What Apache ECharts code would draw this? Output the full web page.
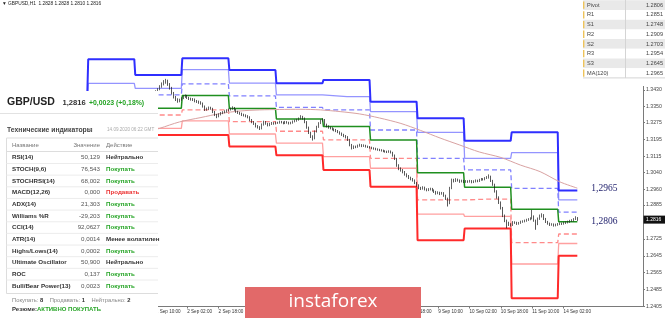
<!DOCTYPE html>
<html><head><meta charset="utf-8">
<script src="https://cdn.jsdelivr.net/npm/echarts@6/dist/echarts.min.js"></script>
<style>html,body{margin:0;padding:0;background:#fff}#c{width:665px;height:318px}</style>
</head><body><div id="c"></div>
<script>
// ---------- DATA ----------
const dayLabels = ['27 Aug','28 Aug','31 Aug','1 Sep','2 Sep','3 Sep','4 Sep','7 Sep','8 Sep','9 Sep','10 Sep','11 Sep','14 Sep','15 Sep'];
const firstBarTime = '1 Sep 07:00';
// H1 candles [open, close, low, high] from 1 Sep 07:00 to 14 Sep 09:00
const candles = [
[1.3392,1.3398,1.3386,1.3404],[1.3398,1.3405,1.3393,1.3411],[1.3405,1.3410,1.3399,1.3417],[1.3410,1.3421,1.3406,1.3428],
[1.3421,1.3432,1.3415,1.3438],[1.3432,1.3446,1.3428,1.3452],[1.3446,1.3458,1.3440,1.3465],[1.3458,1.3468,1.3451,1.3476],
[1.3468,1.3471,1.3459,1.3482],[1.3471,1.3455,1.3449,1.3478],[1.3455,1.3438,1.3431,1.3462],[1.3438,1.3414,1.3408,1.3444],
[1.3414,1.3396,1.3389,1.3420],[1.3396,1.3384,1.3377,1.3401],[1.3384,1.3376,1.3369,1.3390],[1.3376,1.3382,1.3371,1.3388],
[1.3382,1.3390,1.3378,1.3395],[1.3390,1.3398,1.3386,1.3404],[1.3398,1.3401,1.3392,1.3408],[1.3401,1.3392,1.3387,1.3406],
[1.3392,1.3388,1.3382,1.3397],[1.3388,1.3385,1.3379,1.3393],[1.3385,1.3383,1.3377,1.3391],[1.3383,1.3377,1.3371,1.3389],
[1.3377,1.3374,1.3368,1.3382],[1.3374,1.3371,1.3364,1.3379],[1.3371,1.3366,1.3360,1.3376],[1.3366,1.3352,1.3346,1.3370],
[1.3352,1.3336,1.3330,1.3356],[1.3336,1.3340,1.3331,1.3346],[1.3340,1.3346,1.3335,1.3351],[1.3346,1.3341,1.3336,1.3350],
[1.3341,1.3326,1.3320,1.3345],[1.3326,1.3312,1.3306,1.3330],[1.3312,1.3304,1.3296,1.3316],[1.3304,1.3314,1.3300,1.3319],
[1.3314,1.3320,1.3309,1.3325],[1.3320,1.3324,1.3315,1.3329],[1.3324,1.3328,1.3319,1.3333],[1.3328,1.3333,1.3323,1.3338],
[1.3333,1.3337,1.3328,1.3342],[1.3337,1.3341,1.3332,1.3346],[1.3341,1.3345,1.3336,1.3352],[1.3345,1.3336,1.3331,1.3349],
[1.3336,1.3327,1.3321,1.3340],[1.3327,1.3322,1.3316,1.3331],[1.3322,1.3318,1.3312,1.3326],[1.3318,1.3312,1.3306,1.3322],
[1.3312,1.3310,1.3304,1.3317],[1.3310,1.3306,1.3300,1.3314],[1.3306,1.3301,1.3295,1.3310],[1.3301,1.3288,1.3282,1.3305],
[1.3288,1.3278,1.3272,1.3292],[1.3278,1.3270,1.3264,1.3282],[1.3270,1.3258,1.3252,1.3274],[1.3258,1.3254,1.3247,1.3263],
[1.3254,1.3247,1.3240,1.3258],[1.3247,1.3266,1.3243,1.3271],[1.3266,1.3278,1.3261,1.3284],[1.3278,1.3270,1.3265,1.3282],
[1.3270,1.3263,1.3257,1.3274],[1.3263,1.3269,1.3258,1.3274],[1.3269,1.3273,1.3264,1.3278],[1.3273,1.3270,1.3265,1.3277],
[1.3270,1.3275,1.3266,1.3280],[1.3275,1.3274,1.3269,1.3279],[1.3274,1.3279,1.3270,1.3284],[1.3279,1.3276,1.3271,1.3283],
[1.3276,1.3272,1.3267,1.3280],[1.3272,1.3278,1.3268,1.3283],[1.3278,1.3275,1.3270,1.3282],[1.3275,1.3271,1.3266,1.3279],
[1.3271,1.3274,1.3267,1.3279],[1.3274,1.3280,1.3270,1.3285],[1.3280,1.3284,1.3276,1.3289],[1.3284,1.3288,1.3279,1.3293],
[1.3288,1.3294,1.3284,1.3299],[1.3294,1.3302,1.3290,1.3310],[1.3302,1.3296,1.3289,1.3307],[1.3296,1.3278,1.3272,1.3299],
[1.3278,1.3252,1.3246,1.3282],[1.3252,1.3228,1.3221,1.3256],[1.3228,1.3210,1.3202,1.3232],[1.3210,1.3200,1.3190,1.3215],
[1.3200,1.3232,1.3196,1.3238],[1.3232,1.3255,1.3228,1.3260],[1.3255,1.3272,1.3250,1.3277],[1.3272,1.3285,1.3268,1.3290],
[1.3285,1.3289,1.3280,1.3296],[1.3289,1.3266,1.3260,1.3292],[1.3266,1.3258,1.3252,1.3270],[1.3258,1.3252,1.3246,1.3262],
[1.3252,1.3249,1.3243,1.3256],[1.3249,1.3244,1.3238,1.3253],[1.3244,1.3240,1.3234,1.3248],[1.3240,1.3236,1.3230,1.3245],
[1.3236,1.3230,1.3225,1.3240],[1.3230,1.3224,1.3218,1.3234],[1.3224,1.3218,1.3212,1.3228],[1.3218,1.3212,1.3206,1.3222],
[1.3212,1.3207,1.3200,1.3216],[1.3207,1.3194,1.3188,1.3211],[1.3194,1.3170,1.3163,1.3198],[1.3170,1.3155,1.3148,1.3174],
[1.3155,1.3162,1.3150,1.3167],[1.3162,1.3160,1.3154,1.3166],[1.3160,1.3166,1.3156,1.3171],[1.3166,1.3169,1.3161,1.3175],
[1.3169,1.3164,1.3159,1.3173],[1.3164,1.3167,1.3160,1.3172],[1.3167,1.3162,1.3157,1.3170],[1.3162,1.3160,1.3155,1.3166],
[1.3160,1.3157,1.3152,1.3164],[1.3157,1.3154,1.3149,1.3161],[1.3154,1.3152,1.3147,1.3158],[1.3152,1.3149,1.3144,1.3156],
[1.3149,1.3147,1.3142,1.3153],[1.3147,1.3145,1.3140,1.3151],[1.3145,1.3143,1.3138,1.3149],[1.3143,1.3140,1.3135,1.3147],
[1.3140,1.3138,1.3133,1.3144],[1.3138,1.3137,1.3131,1.3142],[1.3137,1.3139,1.3132,1.3144],[1.3139,1.3134,1.3129,1.3143],
[1.3134,1.3120,1.3114,1.3137],[1.3120,1.3104,1.3098,1.3124],[1.3104,1.3072,1.3066,1.3108],[1.3072,1.3058,1.3050,1.3078],
[1.3058,1.3050,1.3043,1.3063],[1.3050,1.3041,1.3035,1.3055],[1.3041,1.3030,1.3024,1.3046],[1.3030,1.3022,1.3016,1.3035],
[1.3022,1.3014,1.3008,1.3027],[1.3014,1.3008,1.3002,1.3019],[1.3008,1.3002,1.2996,1.3013],[1.3002,1.2990,1.2984,1.3006],
[1.2990,1.2978,1.2972,1.2994],[1.2978,1.2966,1.2960,1.2983],[1.2966,1.2962,1.2956,1.2971],[1.2962,1.2968,1.2958,1.2974],
[1.2968,1.2960,1.2954,1.2972],[1.2960,1.2956,1.2950,1.2964],[1.2956,1.2959,1.2951,1.2965],[1.2959,1.2962,1.2954,1.2967],
[1.2962,1.2955,1.2949,1.2966],[1.2955,1.2948,1.2942,1.2959],[1.2948,1.2940,1.2934,1.2952],[1.2940,1.2944,1.2936,1.2950],
[1.2944,1.2938,1.2932,1.2948],[1.2938,1.2942,1.2934,1.2947],[1.2942,1.2930,1.2924,1.2946],[1.2930,1.2916,1.2909,1.2934],
[1.2916,1.2893,1.2878,1.2920],[1.2893,1.2965,1.2889,1.2971],[1.2965,1.3004,1.2960,1.3010],[1.3004,1.2998,1.2992,1.3009],
[1.2998,1.3006,1.2994,1.3012],[1.3006,1.3002,1.2996,1.3010],[1.3002,1.2996,1.2990,1.3006],[1.2996,1.3000,1.2992,1.3005],
[1.3000,1.2994,1.2989,1.3004],[1.2994,1.2998,1.2990,1.3003],[1.2998,1.2995,1.2990,1.3002],[1.2995,1.2999,1.2991,1.3004],
[1.2999,1.2993,1.2988,1.3003],[1.2993,1.2997,1.2989,1.3002],[1.2997,1.3001,1.2992,1.3006],[1.3001,1.2998,1.2993,1.3005],
[1.2998,1.3004,1.2994,1.3009],[1.3004,1.3008,1.3000,1.3013],[1.3008,1.3006,1.3001,1.3012],[1.3006,1.3012,1.3002,1.3017],
[1.3012,1.3016,1.3008,1.3022],[1.3016,1.3020,1.3010,1.3030],[1.3020,1.3000,1.2994,1.3024],[1.3000,1.2982,1.2976,1.3004],
[1.2982,1.2950,1.2944,1.2986],[1.2950,1.2922,1.2915,1.2955],[1.2922,1.2898,1.2890,1.2926],[1.2898,1.2872,1.2864,1.2902],
[1.2872,1.2836,1.2828,1.2876],[1.2836,1.2812,1.2804,1.2840],[1.2812,1.2800,1.2775,1.2816],[1.2800,1.2794,1.2786,1.2806],
[1.2794,1.2790,1.2783,1.2799],[1.2790,1.2804,1.2786,1.2809],[1.2804,1.2802,1.2796,1.2808],[1.2802,1.2797,1.2791,1.2806],
[1.2797,1.2800,1.2792,1.2805],[1.2800,1.2806,1.2796,1.2811],[1.2806,1.2808,1.2801,1.2813],[1.2808,1.2811,1.2803,1.2816],
[1.2811,1.2815,1.2806,1.2820],[1.2815,1.2818,1.2810,1.2823],[1.2818,1.2822,1.2813,1.2827],[1.2822,1.2830,1.2817,1.2862],
[1.2830,1.2812,1.2806,1.2836],[1.2812,1.2796,1.2768,1.2816],[1.2796,1.2820,1.2790,1.2826],[1.2820,1.2832,1.2815,1.2840],
[1.2832,1.2838,1.2826,1.2846],[1.2838,1.2820,1.2814,1.2842],[1.2820,1.2806,1.2800,1.2824],[1.2806,1.2798,1.2792,1.2810],
[1.2798,1.2792,1.2786,1.2802],[1.2792,1.2794,1.2787,1.2799],[1.2794,1.2789,1.2783,1.2798],[1.2789,1.2792,1.2784,1.2797],
[1.2792,1.2795,1.2787,1.2800],[1.2795,1.2798,1.2790,1.2803],[1.2798,1.2796,1.2791,1.2802],[1.2796,1.2800,1.2792,1.2805],
[1.2800,1.2803,1.2795,1.2808],[1.2803,1.2806,1.2798,1.2811],[1.2806,1.2810,1.2801,1.2815],[1.2810,1.2812,1.2805,1.2818],
[1.2812,1.2818,1.2807,1.2823],[1.2818,1.2828,1.2814,1.2832],[1.2828,1.2816,1.2810,1.2828]
];
// Daily classic pivot levels (one value per trading day)
const pivotDays = ['28 Aug','31 Aug','1 Sep','2 Sep','3 Sep','4 Sep','7 Sep','8 Sep','9 Sep','10 Sep','11 Sep','14 Sep'];
const r3 = [1.3399,1.3575,1.3500,1.3579,1.3524,1.3461,1.3477,1.3374,1.3295,1.3189,1.3229,1.2954];
const r2 = [1.3332,1.3461,1.3437,1.3526,1.3462,1.3406,1.3398,1.3327,1.3229,1.3106,1.3133,1.2909];
const r1 = [1.3269,1.3404,1.3406,1.3458,1.3401,1.3347,1.3335,1.3240,1.3106,1.3051,1.2964,1.2851];
const pv = [1.3202,1.3300,1.3343,1.3403,1.3342,1.3292,1.3256,1.3193,1.3038,1.2969,1.2865,1.2806];
const s1 = [1.3139,1.3243,1.3311,1.3335,1.3280,1.3234,1.3193,1.3106,1.2909,1.2913,1.2707,1.2748];
const s2 = [1.3072,1.3139,1.3248,1.3283,1.3221,1.3178,1.3114,1.3059,1.2842,1.2831,1.2606,1.2703];
const s3 = [1.3009,1.3082,1.3216,1.3216,1.3162,1.3120,1.3051,1.2972,1.2719,1.2774,1.2444,1.2645];
// MA(120)
const maTimes = ['1 Sep 07:00','1 Sep 12:00','1 Sep 22:00','2 Sep 09:00','2 Sep 19:00','3 Sep 05:00','3 Sep 15:00','4 Sep 01:00','4 Sep 12:00','4 Sep 22:00','7 Sep 08:00','7 Sep 18:00','8 Sep 04:00','8 Sep 15:00','9 Sep 01:00','9 Sep 11:00','9 Sep 21:00','10 Sep 07:00','10 Sep 18:00','11 Sep 04:00','11 Sep 14:00','14 Sep 00:00','14 Sep 09:00'];
const maValues = [1.3235,1.3248,1.3278,1.3299,1.3318,1.3330,1.3335,1.3337,1.3338,1.3335,1.3327,1.3316,1.3297,1.3271,1.3238,1.3202,1.3169,1.3136,1.3110,1.3074,1.3043,1.2995,1.2965];
// Price axis tick labels
const yTicks = [1.2405,1.2485,1.2565,1.2645,1.2725,1.2805,1.2885,1.2960,1.3040,1.3115,1.3195,1.3275,1.3350,1.3430];
// Technical indicators panel
const indNames = ['RSI(14)','STOCH(9,6)','STOCHRSI(14)','MACD(12,26)','ADX(14)','Williams %R','CCI(14)','ATR(14)','Highs/Lows(14)','Ultimate Oscillator','ROC','Bull/Bear Power(13)'];
const indValues = ['50,129','76,543','68,002','0,000','21,303','-29,203','92,0627','0,0014','0,0002','50,900','0,137','0,0023'];
const indActions = ['Нейтрально','Покупать','Покупать','Продавать','Покупать','Покупать','Покупать','Менее волатилен','Покупать','Нейтрально','Покупать','Покупать'];
const summaryCounts = [8, 1, 2];

// ---------- BUILD ----------
const categories = [];
dayLabels.forEach((d, k) => {
  for (let h = (k === 0 ? 3 : 0); h < 24 && categories.length < 328; h++) {
    categories.push(d + ' ' + String(h).padStart(2, '0') + ':00');
  }
});
const firstBar = categories.indexOf(firstBarTime);
const lastBar = firstBar + candles.length - 1;
const candleData = new Array(firstBar).fill('-').concat(candles);
const dayStart = pivotDays.map(d => categories.indexOf(d + ' 00:00'));
function stepData(levels) {
  const pts = [];
  levels.forEach((v, d) => {
    const s = dayStart[d];
    const e = d + 1 < dayStart.length ? dayStart[d + 1] - 1 : lastBar;
    pts.push([s, v], [e, v]);
  });
  return pts;
}
const labelAnchor = categories.indexOf('1 Sep 10:00');
const showLabel = (i) => i <= lastBar && (i - labelAnchor) % 16 === 0;
const comma = v => v.toFixed(4).replace('.', ',');
const last = a => a[a.length - 1];

function lvl(data, color, width, dashed, extra) {
  return Object.assign({
    type: 'line', data: stepData(data), step: 'middle', symbol: 'none', silent: true, z: 3,
    lineStyle: { color: color, width: width, type: dashed ? [5, 3] : 'solid' }
  }, extra || {});
}
const endLbl = { show: true, formatter: p => comma(p.value[1]), color: '#22226e', fontFamily: 'Liberation Serif', fontSize: 9.5, distance: 14 };

const chart = echarts.init(document.getElementById('c'), null, { renderer: 'canvas' });
chart.setOption({
  animation: false,
  backgroundColor: '#ffffff',
  grid: { left: 0, right: 22, top: 0, bottom: 11.5 },
  xAxis: {
    type: 'category', data: categories, boundaryGap: true,
    axisLine: { lineStyle: { color: '#7a7a7a', width: 1 } },
    axisTick: { show: true, interval: showLabel, alignWithLabel: true, length: 2, lineStyle: { color: '#7a7a7a' } },
    axisLabel: { interval: showLabel, align: 'left', margin: 3, fontSize: 4.6, color: '#333', fontFamily: 'Liberation Sans' },
    splitLine: { show: false }
  },
  yAxis: {
    type: 'value', position: 'right', min: 1.2405, max: 1.3855, splitLine: { show: false },
    axisLine: { show: true, lineStyle: { color: '#7a7a7a' } },
    axisTick: { show: true, customValues: yTicks, length: 2, lineStyle: { color: '#7a7a7a' } },
    axisLabel: { customValues: yTicks, formatter: v => v.toFixed(4), fontSize: 5.2, color: '#444', margin: 3, fontFamily: 'Liberation Sans' }
  },
  series: [
    lvl(r2, '#9494ff', 1.3, false),
    lvl(r1, '#8080ff', 1.3, true),
    lvl(s1, '#ff8a8a', 1.3, true),
    lvl(s2, '#ffa0a0', 1.3, false),
    lvl(r3, '#2f2fff', 2, false),
    lvl(s3, '#ff2a2a', 2, false),
    lvl(pv, '#1f8f1f', 1.5, false, { endLabel: endLbl }),
    { type: 'line', data: maTimes.map((t, i) => [t, maValues[i]]), smooth: 0.3, symbol: 'none', silent: true, z: 3,
      lineStyle: { color: '#d9a2a2', width: 1 }, endLabel: endLbl },
    { type: 'candlestick', data: candleData, barWidth: 1.3, z: 5, silent: true,
      itemStyle: { color: '#777', color0: '#111', borderColor: '#222', borderColor0: '#111', borderWidth: 0.7 } }
  ]
});

// ---------- OVERLAYS ----------
const F = 'Liberation Sans';
const els = [];
function T(x, y, text, size, color, weight, align, family) {
  els.push({ type: 'text', x: x, y: y, z: 101, silent: true,
    style: { text: text, fill: color, font: (weight || 'normal') + ' ' + size + 'px "' + (family || F) + '"', align: align || 'left', verticalAlign: 'middle' } });
}
function R(x, y, w, h, fill, stroke, z) {
  els.push({ type: 'rect', z: z || 100, silent: true, shape: { x: x, y: y, width: w, height: h }, style: { fill: fill, stroke: stroke || null, lineWidth: 1 } });
}
function L(x1, y1, x2, y2, color) {
  els.push({ type: 'line', z: 101, silent: true, shape: { x1: x1, y1: y1, x2: x2, y2: y2 }, style: { stroke: color, lineWidth: 1 } });
}
// top-left header
const lc = last(candles);
T(2, 4, '▼ GBPUSD,H1  ' + [lc[0], lc[3], lc[2], lc[1]].map(v => v.toFixed(4)).join(' '), 4.8, '#222');

// left panel
R(0, 91, 158, 227, '#ffffff');
T(7, 102.5, 'GBP/USD', 10.5, '#222', 'bold');
T(62.5, 103, comma(lc[1]), 7.6, '#333', 'bold');
T(89, 103, '+0,0023 (+0,18%)', 6.9, '#23a323', 'bold');
L(0, 113.5, 158, 113.5, '#e2e2e2');
T(7, 129.7, 'Технические индикаторы', 6.8, '#444', 'bold');
T(88, 129.7, '»', 6.8, '#999', 'bold');
T(107, 129.7, '14.09.2020 06:22 GMT', 4.6, '#aaa');
L(6.5, 138, 158, 138, '#dddddd');
L(6.5, 138, 6.5, 293.5, '#dddddd');
L(6.5, 293.5, 158, 293.5, '#dddddd');
T(12, 145.3, 'Название', 6, '#777');
T(100, 145.3, 'Значение', 6, '#777', 'normal', 'right');
T(106, 145.3, 'Действие', 6, '#777');
L(6.5, 151.5, 158, 151.5, '#dddddd');
indNames.forEach((n, k) => {
  const y = 157.7 + k * 11.65;
  T(12, y, n, 6.2, '#333', 'bold');
  T(100, y, indValues[k], 6.2, '#555', 'normal', 'right');
  const a = indActions[k];
  const col = a === 'Покупать' ? '#27a527' : (a === 'Продавать' ? '#ec3434' : '#333');
  T(106, y, a, 6.2, col, 'bold');
  if (k < indNames.length - 1) L(6.5, y + 5.8, 158, y + 5.8, '#ececec');
});
els.push({ type: 'text', x: 12, y: 300, z: 101, silent: true, style: {
  text: '{g|Покупать: }{b|' + summaryCounts[0] + '}{g|    Продавать: }{b|' + summaryCounts[1] + '}{g|    Нейтрально: }{b|' + summaryCounts[2] + '}',
  verticalAlign: 'middle', rich: { g: { fill: '#888', font: '5.8px "Liberation Sans"' }, b: { fill: '#333', font: 'bold 5.8px "Liberation Sans"' } } } });
els.push({ type: 'text', x: 12, y: 309.3, z: 101, silent: true, style: {
  text: '{a|Резюме:}{b|АКТИВНО ПОКУПАТЬ}', verticalAlign: 'middle',
  rich: { a: { fill: '#333', font: 'bold 6px "Liberation Sans"' }, b: { fill: '#27a527', font: 'bold 6px "Liberation Sans"' } } } });

// pivot table (top right)
R(580, 0, 85, 86, '#ffffff');
const pivotRows = [['Pivot', last(pv)], ['R1', last(r1)], ['S1', last(s1)], ['R2', last(r2)], ['S2', last(s2)], ['R3', last(r3)], ['S3', last(s3)], ['MA(120)', last(maValues)]];
pivotRows.forEach((r, k) => {
  const y0 = 0.3 + k * 9.7;
  R(583, y0, 82, 9.7, k % 2 === 0 ? '#e9e9e9' : '#ffffff', null, 100);
  R(583, y0 + 1.2, 1.4, 7.3, '#eec35a', null, 101);
  T(587, y0 + 4.9, r[0], 5.6, '#444');
  T(663, y0 + 4.9, r[1].toFixed(4), 5.6, '#444', 'normal', 'right');
});
L(625.5, 0, 625.5, 77.9, '#d4d4d4');
L(583, 77.9, 665, 77.9, '#d4d4d4');

// logo
R(245, 287, 176, 31, '#e26969');
T(333, 302, 'instaforex', 19, '#ffffff', 'normal', 'center', 'Open Sans');

// current price box on the price axis
const py = chart.convertToPixel({ yAxisIndex: 0 }, lc[1]);
const axX = chart.convertToPixel({ xAxisIndex: 0 }, categories.length - 1) + 1;
R(axX + 0.5, py - 4, 665 - axX, 8, '#111111', null, 102);
els.push({ type: 'text', x: axX + 3, y: py, z: 103, silent: true, style: { text: lc[1].toFixed(4), fill: '#fff', font: '5px "Liberation Sans"', verticalAlign: 'middle' } });

chart.setOption({ graphic: { elements: els } });
</script>
</body></html>
